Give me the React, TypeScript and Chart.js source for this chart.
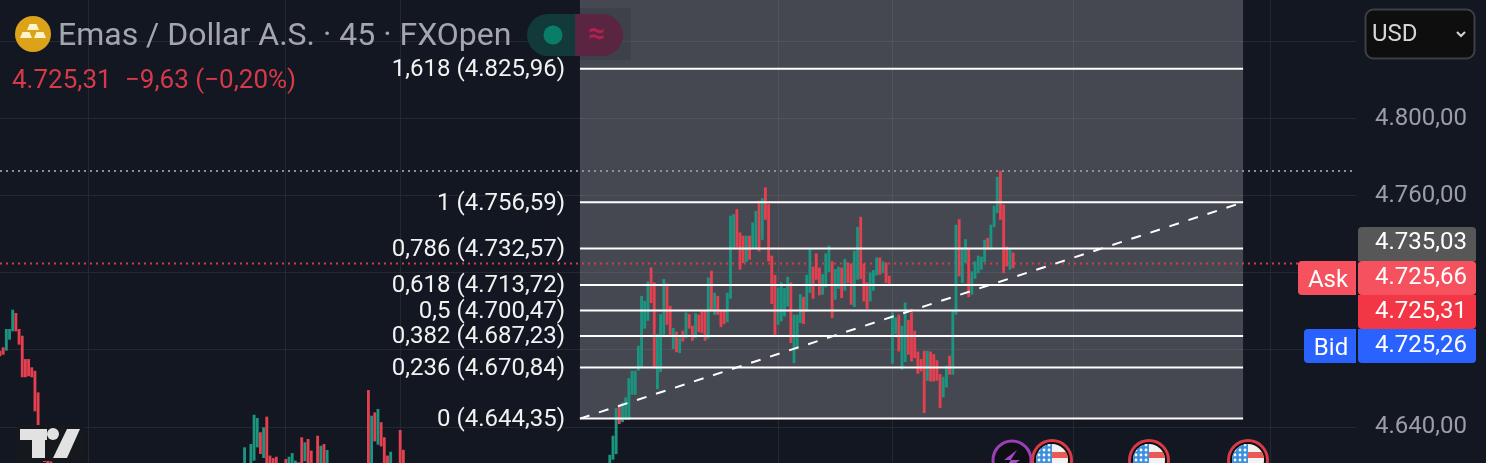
import React, { useEffect, useRef } from "react";
import { Chart, registerables } from "chart.js";

Chart.register(...registerables);

// ---- candles to the left of the drawing (sparse clusters) ----
const leftIndex = [0,1,2,3,4,5,6,7,8,9,10,11,12,13,14,15,16,77,79,80,81,82,83,84,85,86,87,90,91,92,93,94,95,96,97,98,100,101,102,103,116,117,118,119,120,121,122,123,126,127];
const leftHigh = [4679.4,4681.2,4690.7,4690.7,4700.7,4699,4690.7,4687.2,4675.1,4675.1,4670.8,4669,4657.8,4640,4632,4626,4622,4629.3,4631,4646.2,4644.5,4637.1,4639.7,4645.2,4625,4623.7,4624.4,4623.2,4624.4,4626.3,4622.4,4621.5,4634.5,4631.9,4633.6,4627.6,4635.3,4630.1,4631,4627.9,4659,4645.7,4647.4,4649.2,4642.3,4634.5,4625,4627,4638.3,4628];
const leftLow = [4676.9,4677.7,4679.8,4685.5,4689.8,4689.8,4682.9,4666,4666,4666.5,4666,4648.3,4640.5,4625,4622,4618,4618,4618,4618,4622.7,4629.6,4626.2,4624.1,4618,4618,4618,4618,4618,4618,4618,4618,4618,4618,4622.4,4618,4618,4618,4618,4618,4618,4618,4618,4632.7,4631,4630.1,4618,4618,4618,4618,4618];
const leftDirs = "rrgggrrrrrrrrrrrr"+"ggggrgrrrrr"+"gggrrgrrr"+"grgr"+"grgrrrgrrr";

// ---- continuous candle run under the fibonacci drawing ----
const mainStart = 192;
const mainHigh = [4625.4,4635.3,4649.6,4651.2,4652.6,4655.2,4665.2,4669,4669,4682,4707.9,4705.3,4715.4,4722.6,4714.9,4688,4698.4,4716.6,4714.3,4702.7,4691.2,4689.3,4686.3,4689.8,4699.3,4698.4,4692.4,4698.8,4698.1,4700.1,4700.5,4717.4,4720.9,4709.5,4707.9,4700.1,4700.1,4709.5,4749.5,4750.3,4752.9,4740.8,4739.1,4739.1,4739.1,4746,4752,4757.2,4758.6,4764.2,4755.5,4728.7,4718.8,4712.3,4714.9,4711.9,4717.8,4714.9,4698.1,4698.1,4708.8,4707.4,4718.8,4732.2,
4723,4729.9,4722.6,4719.2,4729.9,4733.9,4725.8,4721.8,4723,4722.6,4727,4725.2,4724.7,4731.3,4743.7,4748.9,4724.7,4714.9,4720,4721.3,4727.8,4727.8,4725.8,4725.2,4718.3,4699.3,4696.7,4698.1,4692.4,4704.5,4695.3,4699.3,4689.8,4679,4675.1,4679.4,4679.4,4679,4677.7,4674.5,4667.3,4665.9,4671.6,4676.8,4700.5,4744.8,4747.7,4733,4737.3,4732.7,4720.6,4725.8,4728.7,4728.2,4737,4737.9,4744.8,4754.6,4769.7,4772.8,4755.2,4733.4,4732.2,4730.4];
const mainLow = [4618,4623.2,4626.1,4641.7,4642.7,4643.9,4643.9,4656.9,4656.9,4669.4,4670.7,4691.2,4695.3,4704.5,4670.4,4659.8,4668.7,4688,4693.2,4686.8,4680.6,4679,4678.5,4684.6,4686.3,4691.2,4684.9,4686.3,4689.4,4688.9,4684.9,4686,4701,4698.4,4698.4,4692,4693.6,4694.6,4706.7,4732.7,4733.4,4721.8,4725.2,4725.8,4727,4732.7,4732.7,4731.3,4737.3,4747.7,4726.1,4704,4687.7,4693.2,4695,4697.6,4702.7,4683.7,4673.3,4681.1,4694.1,4693.6,4700.1,4709.7,
4706.7,4716.6,4708.5,4708.8,4712.6,4720.6,4696.7,4706.2,4711.9,4707.1,4710.9,4714.9,4703.6,4702.4,4716.6,4717.1,4705.3,4701.5,4705.3,4710.9,4718.8,4719.2,4720,4714.9,4713.6,4673,4688.4,4679.4,4669.9,4673.9,4677.7,4674.2,4675.9,4667.8,4669,4647.4,4664.2,4663.8,4663.8,4664.2,4650,4655.5,4660.7,4667.3,4667.3,4698.4,4718.3,4714.9,4725.2,4707.6,4708.8,4717.1,4720,4721.8,4725.8,4732.2,4732.2,4743.9,4751.2,4747.7,4720,4723.5,4721.8,4722.6];
const mainDirs = "gggrgggggg"+"gggrrgggrr"+"grgrgrrgrr"+"rgrgrrrggg"+"rrrgrggrgr"+"rrrggggrgg"+"grgg"+"rrrgggrggr"+"grrggrrrgg"+"grgrrggrgg"+"rrrrrrgrrr"+"rggrggrggr"+"gggggrgggr"+"rrgr";

// ---- fibonacci retracement ----
const fibRatios = ["1,618","1","0,786","0,618","0,5","0,382","0,236","0"];
const fibPrices = [4825.96,4756.59,4732.57,4713.72,4700.47,4687.23,4670.84,4644.35];
const drawingStart = 182.6;
const drawingEnd = 391.4;
const trendPrices = [4644.35,4756.59];

// ---- axis ----
const priceTicks = [4640,4680,4720,4760,4800,4840];
const labelledPrices = [4640,4760,4800];
const timeTicks = [28,90,126,245,281,338,400];
const highPrice = 4772.85;
const lastPrice = 4724.8;

// ---- overlay labels ----
const titleText = "Emas / Dollar A.S. · 45 · FXOpen";
const priceText = "4.725,31";
const changeText = "−9,63 (−0,20%)";
const tagPrices = ["4.735,03","4.725,66","4.725,31","4.725,26"];

const FONT = "Roboto, 'Noto Sans', sans-serif";
const fmt = (v: number) => {
  const [a, b] = v.toFixed(2).split(".");
  return a.slice(0, 1) + "." + a.slice(1) + "," + b;
};

function roundRect(ctx: CanvasRenderingContext2D, x: number, y: number, w: number, h: number, r: number | number[]) {
  ctx.beginPath();
  (ctx as any).roundRect(x, y, w, h, r);
}

function drawFlag(ctx: CanvasRenderingContext2D, cx: number, cy: number) {
  ctx.save();
  ctx.beginPath(); ctx.arc(cx, cy, 21, 0, Math.PI * 2); ctx.fillStyle = "#d93a48"; ctx.fill();
  ctx.beginPath(); ctx.arc(cx, cy, 18, 0, Math.PI * 2); ctx.fillStyle = "#101010"; ctx.fill();
  ctx.beginPath(); ctx.arc(cx, cy, 16, 0, Math.PI * 2); ctx.clip();
  ctx.fillStyle = "#f2f2f2"; ctx.fillRect(cx - 16, cy - 16, 32, 32);
  ctx.fillStyle = "#ea5a55"; ctx.fillRect(cx, cy - 8, 16, 6); ctx.fillRect(cx, cy + 3, 16, 6);
  ctx.fillStyle = "#3d8fe0"; ctx.fillRect(cx - 16, cy - 16, 16, 32);
  ctx.fillStyle = "#fff";
  for (let r = 0; r < 4; r++) for (let c = 0; c < 3; c++) {
    ctx.beginPath(); ctx.arc(cx - 13 + c * 5, cy - 15 + r * 5, 1.4, 0, Math.PI * 2); ctx.fill();
  }
  ctx.restore();
}

const scenePlugin = {
  id: "scene",
  beforeDatasetsDraw(chart: any) {
    const { ctx, scales } = chart;
    const x0 = scales.x.getPixelForValue(drawingStart);
    const x1 = scales.x.getPixelForValue(drawingEnd);
    const yb = scales.y.getPixelForValue(fibPrices[7]);
    ctx.save();
    ctx.fillStyle = "rgba(200,202,203,0.28)";
    ctx.fillRect(x0, 0, x1 - x0, yb);
    ctx.restore();
  },
  afterDraw(chart: any) {
    const { ctx, scales } = chart;
    ctx.save();
    ctx.textBaseline = "middle";

    // legend plate and pills
    ctx.fillStyle = "rgba(20,25,35,0.16)";
    ctx.fillRect(527, 8, 104, 52);
    ctx.fillStyle = "#123a3a";
    roundRect(ctx, 527, 14, 48, 42, [21, 0, 0, 21]); ctx.fill();
    ctx.fillStyle = "#5a2540";
    roundRect(ctx, 575, 14, 48, 42, [0, 21, 21, 0]); ctx.fill();
    ctx.fillStyle = "#0a7d68";
    ctx.beginPath(); ctx.arc(553, 35, 9.5, 0, Math.PI * 2); ctx.fill();
    ctx.fillStyle = "#b3224f";
    ctx.font = `700 30px ${FONT}`;
    ctx.textAlign = "center";
    ctx.fillText("≈", 597, 35);

    // symbol icon
    ctx.fillStyle = "#dba21a";
    ctx.beginPath(); ctx.arc(33, 34, 18, 0, Math.PI * 2); ctx.fill();
    ctx.fillStyle = "#fff3c8";
    const bar = (x: number, y: number) => {
      ctx.beginPath(); ctx.moveTo(x + 2.5, y); ctx.lineTo(x + 9.5, y); ctx.lineTo(x + 12, y + 6); ctx.lineTo(x, y + 6); ctx.closePath(); ctx.fill();
    };
    bar(27, 24); bar(20, 32); bar(34, 32);

    // title & legend
    ctx.textAlign = "left";
    ctx.font = `400 32px ${FONT}`;
    ctx.fillStyle = "#a3a6af";
    ctx.fillText(titleText, 58, 37);
    ctx.font = `400 26px ${FONT}`;
    ctx.fillStyle = "#d63a48";
    ctx.fillText(priceText, 12, 81);
    ctx.fillText(changeText, 125, 81);

    // fib labels
    ctx.textAlign = "right";
    ctx.font = `400 24px ${FONT}`;
    ctx.fillStyle = "#f2f2f2";
    fibRatios.forEach((r, i) => {
      const y = scales.y.getPixelForValue(fibPrices[i]);
      ctx.fillText(`${r} (${fmt(fibPrices[i])})`, 565, y + 1.5);
    });

    // logo
    ctx.fillStyle = "#15181c";
    ctx.fillRect(17, 425, 68, 36);
    ctx.fillStyle = "#e2e2e2";
    ctx.fillRect(20, 429, 27, 11);
    ctx.fillRect(32, 429, 13, 29);
    ctx.beginPath(); ctx.arc(53, 434, 6, 0, Math.PI * 2); ctx.fill();
    ctx.beginPath(); ctx.moveTo(67, 429); ctx.lineTo(80, 429); ctx.lineTo(67, 458); ctx.lineTo(53, 458); ctx.closePath(); ctx.fill();

    // event markers
    ctx.lineWidth = 3;
    ctx.strokeStyle = "#9a3fb8";
    ctx.fillStyle = "#0d0f14";
    ctx.beginPath(); ctx.arc(1012, 460, 19, 0, Math.PI * 2); ctx.fill(); ctx.stroke();
    ctx.fillStyle = "#a848c8";
    ctx.beginPath(); ctx.moveTo(1017, 450); ctx.lineTo(1004, 460); ctx.lineTo(1020, 460); ctx.lineTo(1012, 466); ctx.lineTo(1007, 466); ctx.closePath(); ctx.fill();
    drawFlag(ctx, 1052, 460);
    drawFlag(ctx, 1149, 460);
    drawFlag(ctx, 1248, 460);

    // currency button
    ctx.fillStyle = "#0e0e0f";
    ctx.strokeStyle = "#3c3f45";
    ctx.lineWidth = 2;
    roundRect(ctx, 1365.5, 9.5, 109, 49, 8); ctx.fill(); ctx.stroke();
    ctx.textAlign = "left";
    ctx.font = `400 24px ${FONT}`;
    ctx.fillStyle = "#d5d6d8";
    ctx.fillText("USD", 1372, 35);
    ctx.strokeStyle = "#d5d6d8";
    ctx.beginPath(); ctx.moveTo(1457, 32); ctx.lineTo(1461, 36); ctx.lineTo(1465, 32); ctx.stroke();

    // price tags
    const tags = [
      { y: 227, c: "#575757", r: [4, 4, 0, 0], t: 243 },
      { y: 261, c: "#f5515f", r: [4, 4, 4, 4], t: 278 },
      { y: 295, c: "#f23645", r: [0, 0, 4, 4], t: 312 },
      { y: 329, c: "#2962ff", r: [0, 0, 4, 4], t: 346 },
    ];
    tags.forEach((t, i) => {
      ctx.fillStyle = t.c;
      roundRect(ctx, 1358, t.y, 118, 34, t.r); ctx.fill();
      ctx.fillStyle = "#fff";
      ctx.fillText(tagPrices[i], 1375, t.t);
    });
    ctx.textAlign = "center";
    ctx.fillStyle = "#f5515f";
    roundRect(ctx, 1298, 261, 58, 34, [4, 0, 0, 4]); ctx.fill();
    ctx.fillStyle = "#fff";
    ctx.fillText("Ask", 1328, 281);
    ctx.fillStyle = "#2962ff";
    roundRect(ctx, 1304, 329, 52, 34, [4, 0, 0, 4]); ctx.fill();
    ctx.fillStyle = "#fff";
    ctx.fillText("Bid", 1331, 349);
    ctx.restore();
  },
};

const GREEN = "#1b9480";
const RED = "#e5404f";

export default function App() {
  const ref = useRef<HTMLCanvasElement>(null);
  useEffect(() => {
    document.body.style.margin = "0";
    document.body.style.background = "#131722";
    const candles: any[] = [];
    const colors: string[] = [];
    leftIndex.forEach((x, i) => {
      candles.push({ x, y: [leftLow[i], leftHigh[i]] });
      colors.push(leftDirs[i] === "g" ? GREEN : RED);
    });
    mainHigh.forEach((h, i) => {
      candles.push({ x: mainStart + i, y: [mainLow[i], h] });
      colors.push(mainDirs[i] === "g" ? GREEN : RED);
    });
    const hLine = (from: number, to: number, p0: number, p1: number, extra: any) => ({
      type: "line" as const,
      data: [{ x: from, y: p0 }, { x: to, y: p1 }],
      pointRadius: 0,
      borderWidth: 2,
      borderColor: "#ffffff",
      order: 0,
      ...extra,
    });
    const datasets: any[] = [
      { type: "bar", data: candles, backgroundColor: colors, barThickness: 2.2, order: 2 },
      hLine(0, 426.95, highPrice, highPrice, { borderColor: "#8d9098", borderDash: [2, 4], order: 3 }),
      hLine(0, 409.3, lastPrice, lastPrice, { borderColor: "#d63a48", borderDash: [2, 4], order: 3 }),
      ...fibPrices.map((p) => hLine(drawingStart, drawingEnd, p, p, {})),
      hLine(drawingStart, drawingEnd, trendPrices[0], trendPrices[1], { borderDash: [10, 10] }),
    ];
    const zeroPad = (s: any) => {
      s.paddingTop = 0; s.paddingBottom = 0; s.paddingLeft = 0; s.paddingRight = 0;
    };
    const chart = new Chart(ref.current!, {
      type: "bar",
      data: { datasets },
      plugins: [scenePlugin],
      options: {
        responsive: false,
        animation: false,
        events: [],
        layout: { padding: 0 },
        plugins: { legend: { display: false }, tooltip: { enabled: false } },
        scales: {
          x: {
            type: "linear",
            offset: false,
            min: 0,
            max: 426.95,
            afterBuildTicks: (s: any) => { s.ticks = timeTicks.map((value) => ({ value })); },
            afterFit: (s: any) => { zeroPad(s); s.height = 0; },
            ticks: { display: false },
            border: { display: false },
            grid: { color: "#242830", lineWidth: 1, drawTicks: false, offset: false },
          },
          y: {
            type: "linear",
            position: "right",
            min: 4621.32,
            max: 4861.59,
            afterBuildTicks: (s: any) => { s.ticks = priceTicks.map((value) => ({ value })); },
            afterFit: (s: any) => { zeroPad(s); s.width = 130; },
            ticks: {
              autoSkip: false,
              padding: 19,
              color: "#9b9ea7",
              font: { family: FONT, size: 24 },
              callback: (v: any) => (labelledPrices.includes(Number(v)) ? fmt(Number(v)) : ""),
            },
            border: { display: false },
            grid: { color: "#242830", lineWidth: 1, drawTicks: false },
          },
        },
      } as any,
    });
    return () => chart.destroy();
  }, []);
  return (
    <div style={{ width: 1486, height: 463, background: "#131722", overflow: "hidden" }}>
      <canvas ref={ref} width={1486} height={463} style={{ display: "block" }} />
    </div>
  );
}
